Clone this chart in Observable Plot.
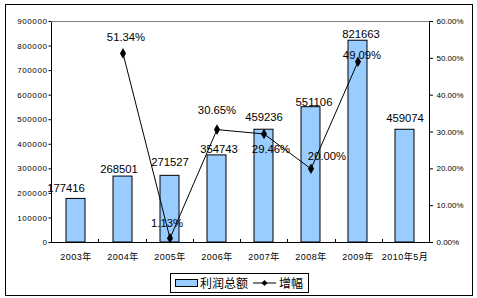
<!DOCTYPE html>
<html><head><meta charset="utf-8">
<script src="https://cdn.jsdelivr.net/npm/d3@7"></script>
<script src="https://cdn.jsdelivr.net/npm/@observablehq/plot@0.6"></script>
<style>
body{margin:0;background:#fff;}
#wrap{position:relative;width:477px;height:298px;overflow:hidden;font-family:"Liberation Sans",Arial,"Noto Sans CJK SC",sans-serif;}
#frame{position:absolute;left:5px;top:4px;width:468px;height:292px;border:1px solid #000;box-sizing:border-box;pointer-events:none;}
#legend{position:absolute;left:170px;top:273px;width:139px;height:20px;border:1px solid #000;box-sizing:border-box;background:#fff;}
#legend .t{position:absolute;top:1px;font-size:12px;line-height:16px;font-family:"Noto Sans CJK SC","Liberation Sans",sans-serif;color:#000;}
</style>
</head><body>
<div id="wrap"><div id="chart"></div><div id="frame"></div>
<div id="legend">
  <svg width="137" height="18" style="position:absolute;left:0;top:0">
    <rect x="4.5" y="5.5" width="22" height="7" fill="#99CCFF" stroke="#000"/>
    <line x1="82" x2="105" y1="9" y2="9" stroke="#000"/>
    <path d="M93.5,6 L96.5,9 L93.5,12 L90.5,9Z" fill="#000"/>
  </svg>
  <span class="t" style="left:29px">利润总额</span>
  <span class="t" style="left:108px">增幅</span>
</div>
</div>
<script>
// ---- data ----
const years = ["2003年","2004年","2005年","2006年","2007年","2008年","2009年","2010年5月"];
const profit = [177416,268501,271527,354743,459236,551106,821663,459074];
const growth = [null,51.34,1.13,30.65,29.46,20.00,49.09,null];
const leftTicks = [0,100000,200000,300000,400000,500000,600000,700000,800000,900000];
const rightTicks = [0,10,20,30,40,50,60];
const yMax = 900000, pMax = 60;

// ---- label nudges (layout, pixels) ----
const barNudge = [[-10,-11],[-4,-7],[0,-13],[2,-6],[0,-12.5],[3,-5],[3,-6],[0,-11]];
const pctNudge = [null,[3,-16],[-3,-15],[0,-19],[7,15.5],[16,-12],[4,-6]];

const W = 477, H = 298, ML = 51, MR = 48, MT = 21, MB = 56;
const toY = p => p / pMax * yMax;

const bars = years.map((y,i)=>({year:y, v:profit[i]}));
const pts = years.map((y,i)=>({year:y, g:growth[i]})).filter(d=>d.g!=null);
const font = "Liberation Sans, Arial, Noto Sans CJK SC, sans-serif";

const barLabels = bars.map((d,i)=>Plot.text([d],{x:"year", y:"v", text:d=>String(d.v),
  dx:barNudge[i][0], dy:barNudge[i][1], fontSize:11.3, fill:"#000"}));
const pctLabels = pts.map(d=>{const i = years.indexOf(d.year); return Plot.text([d],{x:"year", y:dd=>toY(dd.g),
  text:dd=>dd.g.toFixed(2)+"%", dx:pctNudge[i][0], dy:pctNudge[i][1], fontSize:11.3, fill:"#000"});});

const boundaryTicks = (index, scales, values, dim) => {
  const g = d3.create("svg:g");
  const n = years.length;
  const step = (dim.width - dim.marginLeft - dim.marginRight) / n;
  const y0 = scales.y(0);
  for (let i = 1; i < n; i++) {
    const x = Math.round(dim.marginLeft + i*step) + 0.5;
    g.append("line").attr("x1",x).attr("x2",x).attr("y1",y0).attr("y2",y0-3).attr("stroke","#000");
  }
  return g.node();
};

const chart = Plot.plot({
  width: W, height: H, marginLeft: ML, marginRight: MR, marginTop: MT, marginBottom: MB,
  style: {fontFamily: font, background: "transparent", color:"#000"},
  x: {domain: years, paddingInner: 0.59, paddingOuter: 0.295, label: null},
  y: {domain: [0, yMax], label: null},
  marks: [
    Plot.barY(bars, {x:"year", y:"v", fill:"#99CCFF", stroke:"#000", strokeWidth:1}),
    Plot.frame({stroke:"#000"}),
    Plot.ruleY([yMax], {stroke:"#808080"}),
    boundaryTicks,
    Plot.line(pts, {x:"year", y:d=>toY(d.g), stroke:"#000", strokeWidth:1}),
    Plot.dot(pts, {x:"year", y:d=>toY(d.g), symbol:"diamond", r:3.2, fill:"#000", stroke:null}),
    ...barLabels,
    ...pctLabels,
    Plot.axisY(leftTicks, {anchor:"left", tickSize:2.5, tickPadding:1.5, fontSize:8, tickFormat:d=>String(d), label:null}),
    Plot.axisY(rightTicks.map(toY), {anchor:"right", tickSize:3, tickPadding:4, fontSize:8, tickFormat:d=>(d/yMax*pMax).toFixed(2)+"%", label:null}),
    Plot.axisX({tickSize:0, tickPadding:11, fontSize:9, label:null})
  ]
});
document.getElementById("chart").appendChild(chart);
// small letter spacing on left-axis and x-axis tick labels (as in the Excel rendering)
const yLabelGroups = chart.querySelectorAll('g[aria-label="y-axis tick label"]');
if (yLabelGroups.length) yLabelGroups[0].style.letterSpacing = "0.6px";
chart.querySelectorAll('g[aria-label="x-axis tick label"]').forEach(g=>g.style.letterSpacing="0.5px");
</script>
</body></html>
